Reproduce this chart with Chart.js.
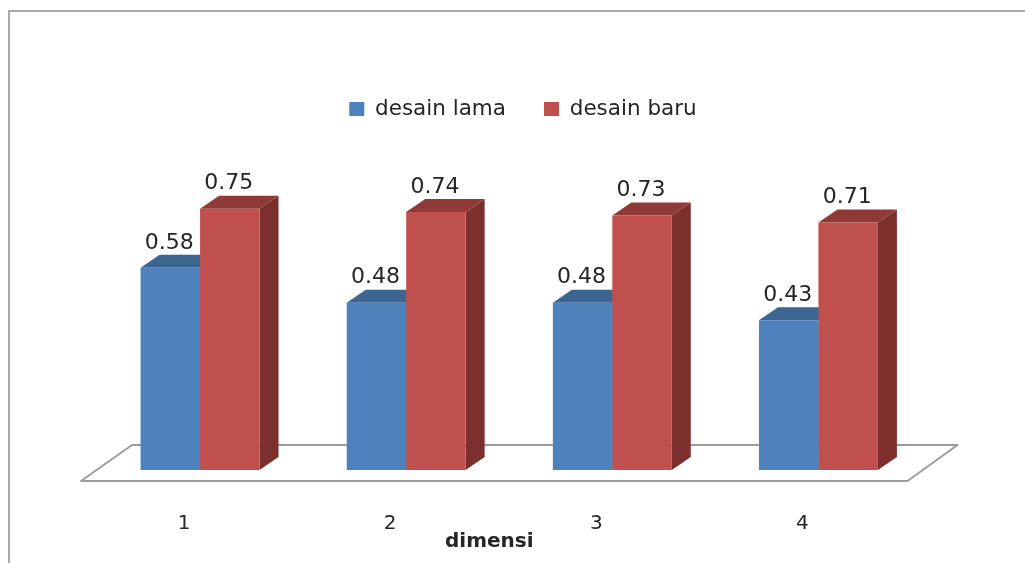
<!DOCTYPE html>
<html>
<head>
<meta charset="utf-8">
<title>dimensi</title>
<script src="https://cdn.jsdelivr.net/npm/chart.js@4"></script>
<style>
  html, body { margin: 0; padding: 0; background: #fff; }
  canvas { display: block; }
</style>
</head>
<body>
<canvas id="myChart" width="1025" height="563"></canvas>
<script>
const categories = ["1", "2", "3", "4"];
const desainLama = [0.58, 0.48, 0.48, 0.43];
const desainBaru = [0.75, 0.74, 0.73, 0.71];

const fontFamily = "'DejaVu Sans', sans-serif";
const textColor = "#262626";

// Depth of the fake 3D extrusion, in pixels
const depthX = 19;
const depthY = 13;

// Fill a polygon from a flat list of [x, y] corners
function fillShape(ctx, corners, color) {
  ctx.fillStyle = color;
  ctx.beginPath();
  corners.forEach(([x, y], i) => (i ? ctx.lineTo(x, y) : ctx.moveTo(x, y)));
  ctx.closePath();
  ctx.fill();
}

// Outer frame: only the top and left edges are visible
const framePlugin = {
  id: "frame",
  beforeDraw(chart) {
    const { ctx, width, height } = chart;
    ctx.save();
    ctx.strokeStyle = "#a9a9a9";
    ctx.lineWidth = 2;
    ctx.beginPath();
    ctx.moveTo(9, height);
    ctx.lineTo(9, 11);
    ctx.lineTo(width, 11);
    ctx.stroke();
    ctx.restore();
  },
};

// Move the legend off the plot centre, it sits above the bars
const legendPlugin = {
  id: "legendNudge",
  afterLayout(chart) {
    const legend = chart.legend;
    const dx = 523 - (legend.left + legend.right) / 2;
    const dy = 95 - (legend.top + legend.bottom) / 2;
    legend.left += dx;
    legend.right += dx;
    legend.top += dy;
    legend.bottom += dy;
  },
};

// Floor plane, then the top and side faces behind each bar
const depthPlugin = {
  id: "depth",
  beforeDatasetsDraw(chart) {
    const { ctx, chartArea } = chart;
    const base = chartArea.bottom;
    ctx.save();
    ctx.strokeStyle = "#9c9c9c";
    ctx.lineWidth = 2;
    ctx.lineJoin = "round";
    ctx.beginPath();
    ctx.moveTo(chartArea.left + 35, base - 25);
    ctx.lineTo(chartArea.right + 36, base - 25);
    ctx.lineTo(chartArea.right - 14, base + 11);
    ctx.lineTo(chartArea.left - 16, base + 11);
    ctx.closePath();
    ctx.stroke();

    const topColors = ["#3d6592", "#8f3a37"];
    chart.data.datasets.forEach((dataset, d) => {
      chart.getDatasetMeta(d).data.forEach((bar) => {
        const left = bar.x - bar.width / 2;
        const right = bar.x + bar.width / 2;
        fillShape(ctx, [
          [left, bar.y],
          [right, bar.y],
          [right + depthX, bar.y - depthY],
          [left + depthX, bar.y - depthY],
        ], topColors[d]);
        fillShape(ctx, [
          [right, bar.y],
          [right + depthX, bar.y - depthY],
          [right + depthX, base - depthY],
          [right, base],
        ], d ? "#7b302e" : "#3d6592");
      });
    });
    ctx.restore();
  },
};

// Value labels over the bars and the axis name under the ticks
const labelPlugin = {
  id: "labels",
  afterDatasetsDraw(chart) {
    const { ctx, scales } = chart;
    ctx.save();
    ctx.fillStyle = textColor;
    ctx.textAlign = "center";
    ctx.textBaseline = "middle";
    ctx.font = "22px " + fontFamily;
    chart.data.datasets.forEach((dataset, d) => {
      chart.getDatasetMeta(d).data.forEach((bar, i) => {
        ctx.fillText(dataset.data[i].toFixed(2), bar.x - 1, bar.y - 25);
      });
    });
    ctx.font = "bold 20px " + fontFamily;
    ctx.fillText("dimensi", (scales.x.left + scales.x.right) / 2 - 20, 542);
    ctx.restore();
  },
};

new Chart(document.getElementById("myChart"), {
  type: "bar",
  data: {
    labels: categories,
    datasets: [
      { label: "desain lama", data: desainLama, backgroundColor: "#4f81bd" },
      { label: "desain baru", data: desainBaru, backgroundColor: "#c0504d" },
    ],
  },
  options: {
    responsive: false,
    animation: false,
    layout: {
      padding: { left: 97, right: 103.5, top: 52, bottom: 0 },
    },
    datasets: {
      bar: { barPercentage: 1, categoryPercentage: 0.577 },
    },
    scales: {
      x: {
        grid: { display: false },
        border: { display: false },
        ticks: {
          color: textColor,
          font: { family: fontFamily, size: 20 },
          padding: 34,
          labelOffset: -16,
          maxRotation: 0,
        },
        // Fixed band under the floor for tick labels and the axis name
        afterFit(scale) {
          scale.height = 93;
        },
      },
      y: {
        display: false,
        min: 0,
        max: 1,
      },
    },
    plugins: {
      tooltip: { enabled: false },
      legend: {
        position: "top",
        labels: {
          color: textColor,
          font: { family: fontFamily, size: 21.5 },
          boxWidth: 15,
          boxHeight: 14,
          padding: 38,
        },
      },
    },
  },
  plugins: [framePlugin, legendPlugin, depthPlugin, labelPlugin],
});
</script>
</body>
</html>
